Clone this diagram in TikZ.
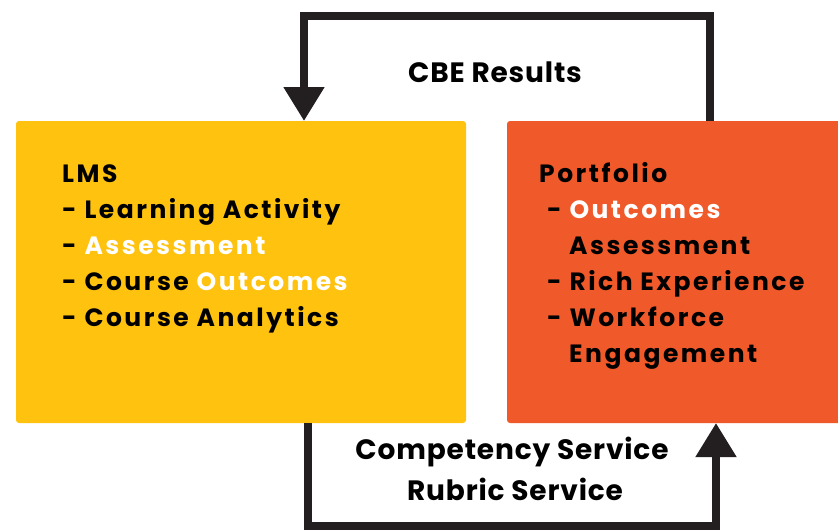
\documentclass[tikz,border=0pt]{standalone}
\usepackage{fontspec}
\setmainfont{Poppins}[BoldFont=* Bold]
\usetikzlibrary{arrows.meta}
\definecolor{lmsyellow}{HTML}{FFC20F}
\definecolor{portorange}{HTML}{F0592A}
\definecolor{linedark}{HTML}{231F20}
\begin{document}
\begin{tikzpicture}[x=1pt,y=-1pt,
  boxstyle/.style={rounded corners=3pt, inner sep=0pt, outer sep=0pt},
  boxtext/.style={anchor=base west, inner sep=0pt, font=\fontsize{25}{30}\selectfont\bfseries\addfontfeatures{LetterSpace=10}, text=black},
  labeltext/.style={anchor=base, inner sep=0pt, font=\fontsize{28}{34}\selectfont\bfseries\addfontfeatures{LetterSpace=3}, text=black},
  conn/.style={draw=linedark, line width=8pt, line join=miter, -{Triangle[width=39pt,length=34pt]}}
]
\useasboundingbox (0,0) rectangle (838,530);
\fill[lmsyellow, boxstyle] (16,121) rectangle (466,423);
\fill[portorange, boxstyle] (507,121) rectangle (845,423);
\node[boxstyle, minimum width=450pt, minimum height=302pt] (lmsbox) at (241,272) {};
\node[boxstyle, minimum width=338pt, minimum height=302pt] (portbox) at (676,272) {};

% LMS text
\node[boxtext] (l0) at (62,182) {LMS};
\node[boxtext] (l1) at (62,218) {- Learning Activity};
\node[boxtext] (l2) at (62,254) {- \textcolor{white}{Assessment}};
\node[boxtext] (l3) at (62,290) {- Course \textcolor{white}{Outcomes}};
\node[boxtext] (l4) at (62,326) {- Course Analytics};

% Portfolio text
\node[boxtext] (p0) at (539,182) {Portfolio};
\node[boxtext] (p1) at (547,218) {- \textcolor{white}{Outcomes}};
\node[boxtext] (p2) at (569,254) {Assessment};
\node[boxtext] (p3) at (547,290) {- Rich Experience};
\node[boxtext] (p4) at (547,326) {- Workforce};
\node[boxtext] (p5) at (569,362) {Engagement};

% labels
\node[labeltext] (cbe) at (495,82) {CBE Results};
\node[labeltext] (comp) at (512,459) {Competency Service};
\node[labeltext] (rub) at (515,500) {Rubric Service};

% connectors
\coordinate (t1) at (710,16);
\coordinate (t2) at (304,16);
\draw[conn] (portbox.north -| t1) -- (t1) -- (t2) -- (lmsbox.north -| t2);
\coordinate (b1) at (308,526);
\coordinate (b2) at (716,526);
\draw[conn] (lmsbox.south -| b1) -- (b1) -- (b2) -- (portbox.south -| b2);
\end{tikzpicture}
\end{document}
